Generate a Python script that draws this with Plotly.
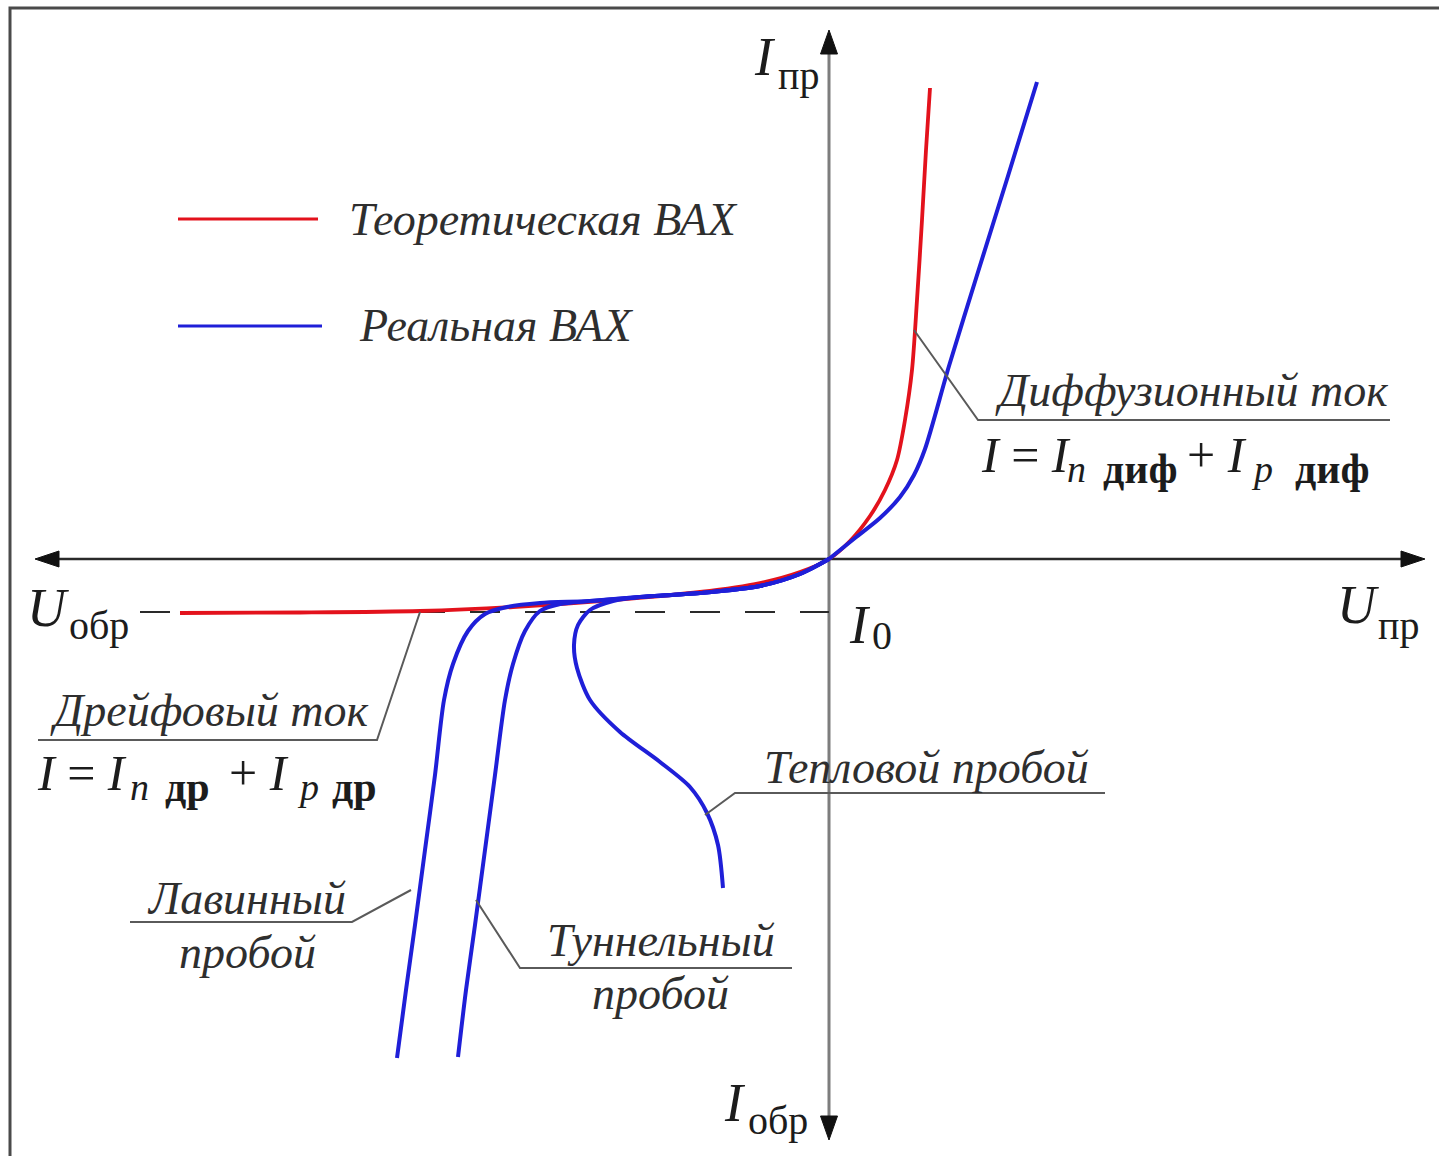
import plotly.graph_objects as go

# ---------------------------------------------------------------------------
# Current-voltage characteristic of a p-n junction (arbitrary units,
# U along the horizontal axis, I along the vertical axis)
# ---------------------------------------------------------------------------

# Theoretical (ideal) I-V curve
theory_u = [-6.49, -5.29, -4.09, -3.16, -2.16, -1.29, -0.69, -0.29, 0.0,
            0.21, 0.41, 0.56, 0.68, 0.76, 0.83, 0.88, 0.93, 0.97, 1.01]
theory_i = [-0.54, -0.535, -0.52, -0.48, -0.41, -0.33, -0.24, -0.13, 0.0,
            0.18, 0.43, 0.69, 0.99, 1.39, 1.89, 2.59, 3.39, 4.09, 4.71]

# Real I-V curve, forward branch
real_fwd_u = [0.0, 0.26, 0.51, 0.71, 0.85, 0.96, 1.20, 1.49, 1.79, 2.08]
real_fwd_i = [0.0, 0.21, 0.41, 0.62, 0.84, 1.10, 1.93, 2.87, 3.83, 4.77]

# Real I-V curve, common part of the reverse branch
real_rev_u = [0.0, -0.29, -0.69, -1.29, -1.89]
real_rev_i = [0.0, -0.15, -0.27, -0.34, -0.38]

# Thermal breakdown
thermal_u = [-2.16, -2.39, -2.51, -2.55, -2.52, -2.39, -2.09, -1.69, -1.39,
             -1.22, -1.11, -1.06]
thermal_i = [-0.42, -0.51, -0.66, -0.86, -1.09, -1.41, -1.73, -2.03, -2.28,
             -2.54, -2.86, -3.29]

# Tunnel breakdown
tunnel_u = [-2.39, -2.69, -2.89, -3.04, -3.16, -3.24, -3.34, -3.44, -3.54,
            -3.63, -3.71]
tunnel_i = [-0.42, -0.45, -0.52, -0.72, -1.05, -1.41, -2.16, -2.91, -3.66,
            -4.31, -4.98]

# Avalanche breakdown
avalanche_u = [-2.39, -2.89, -3.22, -3.44, -3.61, -3.76, -3.85, -3.94, -4.04,
               -4.14, -4.23, -4.32]
avalanche_i = [-0.42, -0.44, -0.48, -0.55, -0.72, -1.05, -1.41, -2.16, -2.91,
               -3.66, -4.31, -4.99]

# Reverse saturation current level I0
I0 = -0.53

# ---------------------------------------------------------------------------
W, H = 1439, 1156
U_RANGE = [-8.29, 6.10]
I_RANGE = [-5.97, 5.59]

RED = "#e3121c"
BLUE = "#1f1fd8"
INK = "#1c1c1c"
GRAY = "#2e2e2e"
LEADER = "#5a5a5a"
SERIF = "Liberation Serif, Times New Roman, serif"

fig = go.Figure()

# ideal characteristic
fig.add_trace(go.Scatter(x=theory_u, y=theory_i, mode="lines",
                         line=dict(color=RED, width=3.8, shape="spline", smoothing=0.8),
                         hoverinfo="skip"))

# real characteristic: forward branch and the three breakdown branches
for bu, bi in [(real_fwd_u, real_fwd_i),
               (real_rev_u + thermal_u, real_rev_i + thermal_i),
               (real_rev_u + tunnel_u, real_rev_i + tunnel_i),
               (real_rev_u + avalanche_u, real_rev_i + avalanche_i)]:
    fig.add_trace(go.Scatter(x=bu, y=bi, mode="lines",
                             line=dict(color=BLUE, width=4, shape="spline", smoothing=0.8),
                             hoverinfo="skip"))

shapes = []


def seg(x0, y0, x1, y1, color, width, dash=None, layer="above"):
    shapes.append(dict(type="line", xref="x", yref="y", x0=x0, y0=y0, x1=x1, y1=y1,
                       line=dict(color=color, width=width, dash=dash), layer=layer))


def poly(points, color, width):
    path = "M " + " L ".join(f"{u},{i}" for u, i in points)
    shapes.append(dict(type="path", xref="x", yref="y", path=path,
                       line=dict(color=color, width=width)))


def head(tu, ti, du, di, length=0.24, half=0.08):
    bu, bi = tu - du * length, ti - di * length
    pu, pi = -di * half, du * half
    path = f"M {tu},{ti} L {bu + pu},{bi + pi} L {bu - pu},{bi - pi} Z"
    shapes.append(dict(type="path", xref="x", yref="y", path=path,
                       fillcolor="#111111", line=dict(color="#111111", width=1)))


# coordinate axes with arrows
seg(-7.90, 0, 5.90, 0, "#2a2a2a", 2.5, layer="below")
seg(0, -5.76, 0, 5.22, "#7d7d7d", 3, layer="below")
head(-7.94, 0, -1, 0)
head(5.96, 0, 1, 0)
head(0, 5.29, 0, 1, length=0.24, half=0.085)
head(0, -5.81, 0, -1, length=0.24, half=0.085)

# saturation current level
seg(-6.89, I0, 0, I0, "#2a2a2a", 2, dash="30px,25px", layer="below")

# legend samples
seg(-6.51, 3.40, -5.11, 3.40, RED, 3)
seg(-6.51, 2.33, -5.07, 2.33, BLUE, 3)

# leader lines to the labels
poly([(0.85, 2.29), (1.49, 1.39), (5.61, 1.39)], LEADER, 2)
poly([(-4.09, -0.53), (-4.52, -1.81), (-7.91, -1.81)], LEADER, 2)
poly([(-1.24, -2.56), (-0.94, -2.34), (2.76, -2.34)], LEADER, 2)
poly([(-4.18, -3.31), (-4.77, -3.63), (-6.99, -3.63)], LEADER, 2)
poly([(-3.53, -3.41), (-3.09, -4.09), (-0.37, -4.09)], LEADER, 2)

# outer frame
shapes.append(dict(type="rect", xref="paper", yref="paper",
                   x0=10 / W, y0=1 - 8 / H, x1=1 + 20 / W, y1=-20 / H,
                   line=dict(color="#4a4a4a", width=3)))

annotations = []


def text(u, i, s, size, anchor="left", color=INK):
    annotations.append(dict(x=u, y=i, xref="x", yref="y", text=s, showarrow=False,
                            xanchor=anchor, yanchor="middle",
                            font=dict(family=SERIF, size=size, color=color)))


LBL = 46
text(-4.82, 3.40, "<i>Теоретическая ВАХ</i>", LBL, color=GRAY)
text(-4.72, 2.34, "<i>Реальная ВАХ</i>", LBL, color=GRAY)
text(1.64, 1.69, "<i>Диффузионный ток</i>", LBL, color=GRAY)
text(-7.81, -1.51, "<i>Дрейфовый ток</i>", LBL, color=GRAY)
text(-0.67, -2.08, "<i>Тепловой пробой</i>", LBL, color=GRAY)
text(-5.83, -3.39, "<i>Лавинный</i>", LBL, anchor="center", color=GRAY)
text(-5.82, -3.93, "<i>пробой</i>", LBL, anchor="center", color=GRAY)
text(-1.68, -3.81, "<i>Туннельный</i>", LBL, anchor="center", color=GRAY)
text(-1.69, -4.34, "<i>пробой</i>", LBL, anchor="center", color=GRAY)


def formula(u0, i0, sub, gaps):
    """I = I_n <sub> + I_p <sub>, laid out from its left edge (u0, i0)."""
    g = gaps
    text(u0, i0, "<i>I</i> = <i>I</i>", 50)
    text(u0 + g[0], i0 - 0.14, "<i>n</i>", 38)
    text(u0 + g[1], i0 - 0.14, f"<b>{sub}</b>", 42)
    text(u0 + g[2], i0, "+ <i>I</i>", 50)
    text(u0 + g[3], i0 - 0.14, "<i>p</i>", 38)
    text(u0 + g[4], i0 - 0.14, f"<b>{sub}</b>", 42)


# current component formulas
formula(1.50, 1.04, "диф", [0.86, 1.22, 2.06, 2.70, 3.14])
formula(-7.94, -2.14, "др", [0.93, 1.28, 1.92, 2.60, 2.95])

# axis names
BIG, SUB = 54, 40
text(-0.77, 5.02, "<i>I</i>", BIG)
text(-0.53, 4.84, "пр", SUB)
text(5.06, -0.46, "<i>U</i>", BIG)
text(5.47, -0.66, "пр", SUB)
text(-8.04, -0.49, "<i>U</i>", BIG)
text(-7.62, -0.66, "обр", SUB)
text(0.18, -0.66, "<i>I</i>", BIG)
text(0.41, -0.76, "0", SUB)
text(-1.07, -5.44, "<i>I</i>", BIG)
text(-0.83, -5.61, "обр", SUB)

fig.update_layout(
    width=W, height=H,
    margin=dict(l=0, r=0, t=0, b=0),
    paper_bgcolor="white", plot_bgcolor="white",
    showlegend=False,
    xaxis=dict(range=U_RANGE, visible=False, fixedrange=True),
    yaxis=dict(range=I_RANGE, visible=False, fixedrange=True),
    shapes=shapes,
    annotations=annotations,
)

fig.write_html("out.html", include_plotlyjs=True, config={"displayModeBar": False})
